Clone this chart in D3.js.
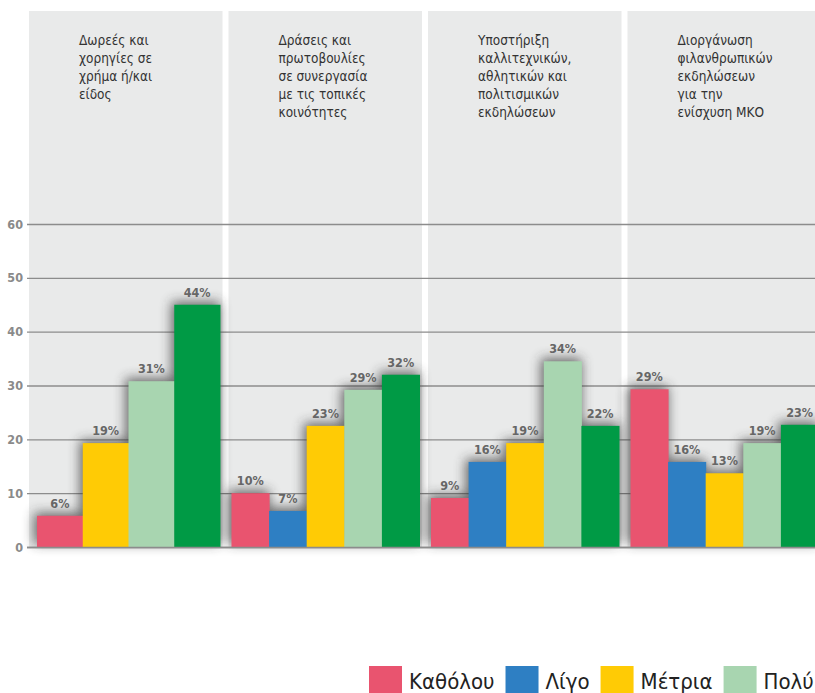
<!DOCTYPE html>
<html>
<head>
<meta charset="utf-8">
<script src="https://cdn.jsdelivr.net/npm/d3@7"></script>
<style>
  html, body { margin: 0; padding: 0; background: #ffffff; }
  svg { display: block; font-family: "DejaVu Sans Condensed", "DejaVu Sans", sans-serif; font-stretch: condensed; }
</style>
</head>
<body>
<svg id="chart" width="815" height="693"></svg>
<script>
// ---- data ----
const categories = [
  ["Δωρεές και", "χορηγίες σε", "χρήμα ή/και", "είδος"],
  ["Δράσεις και", "πρωτοβουλίες", "σε συνεργασία", "με τις τοπικές", "κοινότητες"],
  ["Υποστήριξη", "καλλιτεχνικών,", "αθλητικών και", "πολιτισμικών", "εκδηλώσεων"],
  ["Διοργάνωση", "φιλανθρωπικών", "εκδηλώσεων", "για την", "ενίσχυση ΜΚΟ"]
];
const seriesNames = ["Καθόλου", "Λίγο", "Μέτρια", "Πολύ", "Πάρα πολύ"];
const seriesColors = ["#e9546f", "#2e7fc3", "#ffcb05", "#a8d5b0", "#009a45"];
const valuesKatholou = [5.8, 10.0, 9.1, 29.3];
const valuesLigo     = [0, 6.7, 15.8, 15.8];
const valuesMetria   = [19.3, 22.5, 19.3, 13.7];
const valuesPoly     = [30.8, 29.2, 34.5, 19.3];
const valuesParaPoly = [45.0, 32.0, 22.5, 22.7];
const labelsKatholou = ["6%", "10%", "9%", "29%"];
const labelsLigo     = ["", "7%", "16%", "16%"];
const labelsMetria   = ["19%", "23%", "19%", "13%"];
const labelsPoly     = ["31%", "29%", "34%", "19%"];
const labelsParaPoly = ["44%", "32%", "22%", "23%"];
const yTicks = [0, 10, 20, 30, 40, 50, 60];

const seriesValues = [valuesKatholou, valuesLigo, valuesMetria, valuesPoly, valuesParaPoly];
const seriesLabels = [labelsKatholou, labelsLigo, labelsMetria, labelsPoly, labelsParaPoly];

// ---- layout ----
const W = 815, H = 693;
const svg = d3.select("#chart");
const panelTop = 11, baseY = 547;

const defs = svg.append("defs");
const f = defs.append("filter").attr("id", "blur")
  .attr("x", "-60%").attr("y", "-60%").attr("width", "220%").attr("height", "220%");
f.append("feGaussianBlur").attr("in", "SourceGraphic").attr("stdDeviation", 6);

const x0 = d3.scaleBand().domain(d3.range(categories.length)).range([29, 821]).paddingInner(0.03);
const y = d3.scaleLinear().domain([0, 60]).range([baseY, 224]);

// panels
svg.append("g").selectAll("rect").data(categories).join("rect")
  .attr("x", (d, i) => x0(i)).attr("y", panelTop)
  .attr("width", x0.bandwidth()).attr("height", baseY - panelTop)
  .attr("fill", "#e9eaea");

// gridlines + y axis
const yAxis = svg.append("g").attr("transform", "translate(27,0)")
  .call(d3.axisLeft(y).tickValues(yTicks).tickSize(-(W - 27)).tickPadding(4));
yAxis.select(".domain").remove();
yAxis.selectAll(".tick line").attr("stroke", "#8c8c8c").attr("stroke-width", 1.3);
yAxis.selectAll(".tick text").attr("fill", "#8a8a8a").attr("font-size", 12.5)
  .attr("font-weight", "bold").attr("font-family", "DejaVu Sans Condensed, DejaVu Sans, sans-serif");

// build bar records
const bars = [];
categories.forEach((c, gi) => {
  const present = seriesNames.map((s, si) => si).filter(si => seriesValues[si][gi] > 0);
  const x1 = d3.scaleBand().domain(present).range([present.length < 5 ? 8 : 3, 191]);
  present.forEach(si => {
    bars.push({
      gi, si,
      x: x0(gi) + x1(si), w: x1.bandwidth(),
      v: seriesValues[si][gi], label: seriesLabels[si][gi]
    });
  });
});

// shadows
svg.append("g").attr("filter", "url(#blur)").attr("opacity", 0.7)
  .selectAll("rect").data(bars).join("rect")
  .attr("x", d => d.x - 3).attr("y", d => y(d.v) - 3)
  .attr("width", d => d.w + 3).attr("height", d => baseY - y(d.v))
  .attr("fill", "#333");

// bars
svg.append("g").selectAll("rect").data(bars).join("rect")
  .attr("x", d => d.x).attr("y", d => y(d.v))
  .attr("width", d => d.w + 0.5).attr("height", d => baseY - y(d.v))
  .attr("fill", d => seriesColors[d.si]);

// zero line on top
svg.append("line").attr("x1", 27).attr("x2", W).attr("y1", baseY + 0.5).attr("y2", baseY + 0.5)
  .attr("stroke", "#8c8c8c").attr("stroke-width", 1.3);

// value labels
svg.append("g").selectAll("text").data(bars).join("text")
  .attr("x", d => d.x + d.w / 2).attr("y", d => y(d.v) - 8)
  .attr("text-anchor", "middle").attr("font-size", 12.5).attr("font-weight", "bold")
  .attr("fill", "#666").text(d => d.label);

// panel titles
const titles = svg.append("g").selectAll("text").data(categories).join("text")
  .attr("x", (d, i) => x0(i) + 50).attr("y", 45)
  .attr("font-size", 13.5).attr("fill", "#333");
titles.selectAll("tspan").data(d => d).join("tspan")
  .attr("x", function () { return this.parentNode.getAttribute("x"); })
  .attr("dy", (d, i) => i === 0 ? 0 : 18).text(d => d);

// legend
const lg = svg.append("g");
let lx = 369;
seriesNames.forEach((name, i) => {
  if (lx + 33 > W) return;
  lg.append("rect").attr("x", lx).attr("y", 666).attr("width", 33).attr("height", 27)
    .attr("fill", seriesColors[i]);
  const t = lg.append("text").attr("x", lx + 40).attr("y", 689)
    .attr("font-size", 22).attr("fill", "#222").text(name);
  lx = lx + 40 + t.node().getComputedTextLength() + 11;
});
</script>
</body>
</html>
